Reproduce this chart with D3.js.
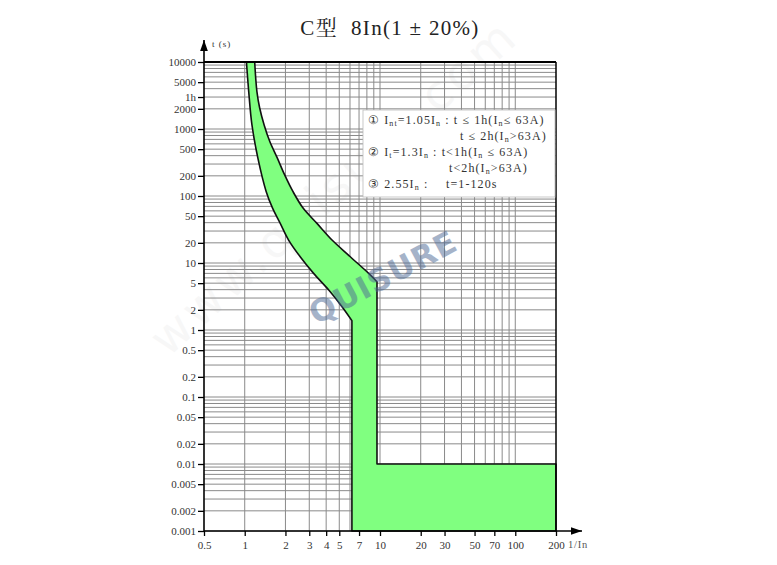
<!DOCTYPE html>
<html><head><meta charset="utf-8">
<script src="https://cdn.jsdelivr.net/npm/d3@7"></script>
<style>
html,body{margin:0;padding:0;background:#fff;}
svg{display:block;}
text{white-space:pre;}
</style></head>
<body>
<svg id="chart" width="777" height="565"></svg>
<script>
// ---- data ----
const titleText = "C型  8In(1 ± 20%)";
const xTickValues = [0.5, 1, 2, 3, 4, 5, 7, 10, 20, 30, 50, 70, 100, 200];
const xTickLabels = ["0.5","1","2","3","4","5","7","10","20","30","50","70","100","200"];
const yTickValues = [10000, 5000, 3000, 2000, 1000, 500, 200, 100, 50, 20, 10, 5, 2, 1, 0.5, 0.2, 0.1, 0.05, 0.02, 0.01, 0.005, 0.002, 0.001];
const yTickLabels = ["10000","5000","1h","2000","1000","500","200","100","50","20","10","5","2","1","0.5","0.2","0.1","0.05","0.02","0.01","0.005","0.002","0.001"];
const xGridValues = [1,2,3,4,5,6,7,8,9,10,20,30,40,50,60,70,80,90,100];
// lower (left) boundary of the tripping band: multiple of In, time in s
const leftCurveI = [1.03, 1.07, 1.13, 1.25, 1.44, 1.6, 1.83, 2.11, 2.57, 3.23, 4.18, 5.24, 6.2];
const leftCurveT = [10000, 3650, 1160, 370, 117, 67, 39, 22, 12.4, 7.0, 3.95, 2.23, 1.38];
// upper (right) boundary
const rightCurveI = [1.185, 1.23, 1.29, 1.39, 1.53, 1.74, 1.97, 2.27, 2.7, 3.42, 4.42, 6.03, 8.25, 9.5];
const rightCurveT = [10000, 3650, 2056, 1160, 655, 370, 208, 117, 66, 39, 22, 12.4, 7.0, 5.26];
const instantLowI = 6.2, instantHighI = 9.5, instantT = 0.01, minT = 0.001, maxI = 200;

// ---- scales ----
const svg = d3.select("#chart");
const x = d3.scaleLog().domain([0.5, 200]).range([204, 556]);
const y = d3.scaleLog().domain([0.001, 10000]).range([531, 62]);
const serif = "'Liberation Serif','DejaVu Serif',serif";

// title
svg.append("text").attr("x", 390).attr("y", 35).attr("text-anchor", "middle")
  .attr("font-family", "'Liberation Serif','Noto Serif CJK SC','Noto Sans CJK SC',serif")
  .attr("font-size", 21).attr("letter-spacing", 1.3).attr("fill", "#222").text(titleText);

// faint diagonal site watermark
svg.append("text").attr("transform", "translate(168,358) rotate(-42)")
  .attr("font-family", "'DejaVu Sans',sans-serif").attr("font-size", 47)
  .attr("fill", "#000").attr("opacity", 0.028).attr("letter-spacing", 4).text("www.quisure.com");

// grid
const yGrid = [];
for (let e = -3; e <= 3; e++) for (let m = 1; m <= 9; m++) yGrid.push(m * Math.pow(10, e));
const g = svg.append("g");
g.selectAll("line.h").data(yGrid).join("line")
  .attr("x1", x(0.5)).attr("x2", x(200)).attr("y1", d => y(d)).attr("y2", d => y(d))
  .attr("stroke", "#8a8a8a").attr("stroke-width", 1);
g.selectAll("line.v").data(xGridValues).join("line")
  .attr("y1", y(minT)).attr("y2", y(10000)).attr("x1", d => x(d)).attr("x2", d => x(d))
  .attr("stroke", "#8a8a8a").attr("stroke-width", 1);

// band polygon
const pt = (i, t) => [x(i), y(t)];
const curve = d3.line().curve(d3.curveCatmullRom.alpha(0.5));
const leftPts = leftCurveI.map((v, i) => pt(v, leftCurveT[i]));
const rightPts = rightCurveI.map((v, i) => pt(v, rightCurveT[i])).reverse();
const straight = [pt(instantLowI, minT), pt(maxI, minT), pt(maxI, instantT), pt(instantHighI, instantT)];
let dPath = curve(leftPts);
straight.forEach(p => { dPath += "L" + p[0] + "," + p[1]; });
dPath += curve(rightPts).replace(/^M/, "L") + "Z";
svg.append("path").attr("d", dPath).attr("fill", "#80ff80")
  .attr("stroke", "#111").attr("stroke-width", 1.6).attr("stroke-linejoin", "round");

// frame (top & right)
svg.append("line").attr("x1", x(0.5)).attr("x2", x(200)).attr("y1", y(10000)).attr("y2", y(10000))
  .attr("stroke", "#000").attr("stroke-width", 2);
svg.append("line").attr("x1", x(200)).attr("x2", x(200)).attr("y1", y(10000)).attr("y2", y(minT))
  .attr("stroke", "#000").attr("stroke-width", 1.5);

// legend box
const lg = svg.append("g").attr("font-family", serif).attr("font-size", 12).attr("fill", "#333").attr("letter-spacing", 1.1);
lg.append("rect").attr("x", 363).attr("y", 110).attr("width", 192).attr("height", 87)
  .attr("fill", "#fff").attr("stroke", "#bbb").attr("stroke-width", 0.8);
function rich(xp, yp, parts) {
  const t = lg.append("text").attr("x", xp).attr("y", yp);
  let shifted = false;
  parts.forEach(p => {
    if (typeof p === "string") {
      t.append("tspan").attr("dy", shifted ? -2 : 0).text(p);
      shifted = false;
    } else {
      t.append("tspan").attr("font-size", 8).attr("dy", 2).text(p.sub);
      shifted = true;
    }
  });
}
rich(368, 124, ["① I", {sub: "nt"}, "=1.05I", {sub: "n"}, " : t ≤ 1h(I", {sub: "n"}, "≤ 63A)"]);
rich(460, 140, ["t ≤ 2h(I", {sub: "n"}, ">63A)"]);
rich(368, 156, ["② I", {sub: "t"}, "=1.3I", {sub: "n"}, " : t<1h(I", {sub: "n"}, " ≤ 63A)"]);
rich(449, 172, ["t<2h(I", {sub: "n"}, ">63A)"]);
rich(368, 188, ["③ 2.55I", {sub: "n"}, " :"]);
lg.append("text").attr("x", 446).attr("y", 188).text("t=1-120s");

// QUISURE watermark
svg.append("text").attr("transform", "translate(388,287) rotate(-28)").attr("text-anchor", "middle")
  .attr("font-family", "'DejaVu Sans',sans-serif").attr("font-weight", "bold").attr("font-size", 31)
  .attr("fill", "#4e6a94").attr("opacity", 0.5).attr("letter-spacing", 1).text("QUISURE");

// axes
const yAxis = d3.axisLeft(y).tickValues(yTickValues).tickFormat((d, i) => yTickLabels[i]).tickSize(6).tickSizeOuter(0);
const ya = svg.append("g").attr("transform", `translate(${x(0.5)},0)`).call(yAxis);
ya.select(".domain").remove();
ya.selectAll(".tick line").attr("stroke", "#000").attr("stroke-width", 1.3);
ya.selectAll(".tick text").attr("font-family", serif).attr("font-size", 11).attr("fill", "#333").attr("x", -8);

const xAxis = d3.axisBottom(x).tickValues(xTickValues).tickFormat((d, i) => xTickLabels[i]).tickSize(5).tickSizeOuter(0);
const xa = svg.append("g").attr("transform", `translate(0,${y(minT)})`).call(xAxis);
xa.select(".domain").remove();
xa.selectAll(".tick line").attr("stroke", "#000").attr("stroke-width", 1.3);
xa.selectAll(".tick text").attr("font-family", serif).attr("font-size", 11).attr("fill", "#333").attr("dy", "0.9em");

// axis lines with arrows
const defs = svg.append("defs");
defs.append("marker").attr("id", "arr").attr("viewBox", "0 0 10 10").attr("refX", 10).attr("refY", 5)
  .attr("markerWidth", 7).attr("markerHeight", 7).attr("orient", "auto")
  .append("path").attr("d", "M0,1.5L10,5L0,8.5Z").attr("fill", "#000");
svg.append("line").attr("x1", x(0.5)).attr("x2", x(0.5)).attr("y1", y(minT)).attr("y2", 40)
  .attr("stroke", "#000").attr("stroke-width", 1.6).attr("marker-end", "url(#arr)");
svg.append("line").attr("x1", x(0.5)).attr("x2", 582).attr("y1", y(minT)).attr("y2", y(minT))
  .attr("stroke", "#000").attr("stroke-width", 1.6).attr("marker-end", "url(#arr)");

svg.append("text").attr("x", 212).attr("y", 47).attr("font-family", serif).attr("font-size", 9)
  .attr("fill", "#333").attr("letter-spacing", 1).text("t (s)");
svg.append("text").attr("x", 568).attr("y", 548).attr("font-family", serif).attr("font-size", 10.5)
  .attr("fill", "#555").attr("letter-spacing", 0.8).text("1/In");
</script>
</body></html>
